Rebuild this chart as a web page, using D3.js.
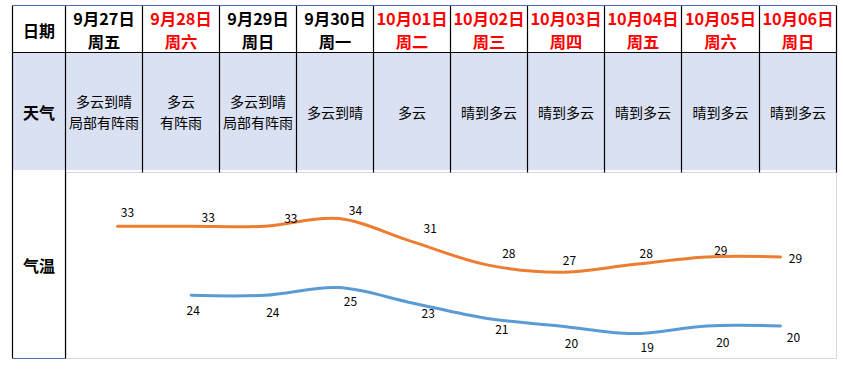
<!DOCTYPE html>
<html><head><meta charset="utf-8">
<script src="https://cdn.jsdelivr.net/npm/d3@7"></script>
<style>body{margin:0;background:#fff}svg{display:block}</style>
</head><body><svg id="c" width="843" height="376"></svg>
<script>
const dates = ["9月27日","9月28日","9月29日","9月30日","10月01日","10月02日","10月03日","10月04日","10月05日","10月06日"];
const weekdays = ["周五","周六","周日","周一","周二","周三","周四","周五","周六","周日"];
const holiday = [false,true,false,false,true,true,true,true,true,true];
const weather = [["多云到晴","局部有阵雨"],["多云","有阵雨"],["多云到晴","局部有阵雨"],["多云到晴"],["多云"],["晴到多云"],["晴到多云"],["晴到多云"],["晴到多云"],["晴到多云"]];
const high = [33,33,33,34,31,28,27,28,29,29];
const low = [null,24,24,25,23,21,20,19,20,20];
const rowLabels = ["日期","天气","气温"];

// layout-only label nudges (px)
const hiNudge = [[10,-14.6],[17,-9.6],[26,-8.6],[17,-9.6],[18,-14],[23,-12],[10,-12.6],[13,-12],[14,-7],[15,0.7]];
const loNudge = [[0,0],[2,14],[8,16.4],[12,12.4],[16,10],[16,10.7],[12,16.8],[14,13],[16,15.8],[13,10.8]];

const svg = d3.select("#c");
const FONT = "'Noto Sans CJK SC','Noto Sans',sans-serif";
const colEdges = [12.5,65.5,142.5,219.5,296.5,373.5,450.5,527.5,604.5,681.5,759.5,836.5];
const yTop = 5.5, yR1 = 52.5, yR2 = 172.5, yBot = 358.5, blueEnd = 170;

svg.append("rect").attr("x",colEdges[0]).attr("y",yR1).attr("width",colEdges[11]-colEdges[0]).attr("height",blueEnd-yR1).attr("fill","#D9E1F2");

svg.append("rect").attr("x",66).attr("y",yR2).attr("width",836.5-66).attr("height",yBot-yR2)
  .attr("fill","#fff").attr("stroke","#d9d9d9").attr("stroke-width",1);

const g = svg.append("g").attr("stroke","#000").attr("stroke-width",1.2);
colEdges.forEach((xx,i)=>{
  let y2 = (i===0||i===1) ? yBot : yR2;
  g.append("line").attr("x1",xx).attr("x2",xx).attr("y1",yTop).attr("y2",y2);
});
g.append("line").attr("x1",colEdges[0]).attr("x2",colEdges[11]).attr("y1",yR1).attr("y2",yR1);
svg.append("line").attr("x1",colEdges[0]).attr("x2",colEdges[11]).attr("y1",yTop).attr("y2",yTop).attr("stroke","#4a6fb0").attr("stroke-width",1.2);
svg.append("line").attr("x1",colEdges[0]).attr("x2",colEdges[1]).attr("y1",yBot).attr("y2",yBot).attr("stroke","#4a6fb0").attr("stroke-width",1.2);

const labY = [29.5,112,264.5];
rowLabels.forEach((t,i)=>{
  svg.append("text").attr("x",(colEdges[0]+colEdges[1])/2).attr("y",labY[i]).attr("text-anchor","middle")
    .attr("dominant-baseline","central").attr("font-family",FONT).attr("font-weight","bold").attr("font-size",16).text(t);
});

function multi(cx, ys, lines, attrs){
  lines.forEach((s,j)=>{
    const t = svg.append("text").attr("x",cx).attr("y",ys[j]).attr("text-anchor","middle").attr("dominant-baseline","central").attr("font-family",FONT);
    Object.entries(attrs).forEach(([k,v])=>t.attr(k,v));
    t.text(s);
  });
}

dates.forEach((d,i)=>{
  const cx = (colEdges[i+1]+colEdges[i+2])/2;
  const col = holiday[i] ? "#FF0000" : "#000";
  multi(cx,[17.6,41.2],[d,weekdays[i]],{"font-weight":"bold","font-size":16.3,"fill":col});
  const w = weather[i];
  const ys = w.length===2 ? [101,121.5] : [112.3];
  multi(cx,ys,w,{"font-size":14,"fill":"#000"});
});

const x = d3.scalePoint().domain(d3.range(dates.length)).range([117.5,780.5]);
const y = d3.scaleLinear().domain([19,34]).range([333.6,218.6]);
const line = d3.line().defined(d=>d.v!=null).x(d=>x(d.i)).y(d=>y(d.v)).curve(d3.curveCatmullRom.alpha(0.5));
const hiData = high.map((v,i)=>({i,v}));
const loData = low.map((v,i)=>({i,v}));
svg.append("path").datum(hiData).attr("d",line).attr("fill","none").attr("stroke","#ED7D31").attr("stroke-width",3).attr("stroke-linecap","round");
svg.append("path").datum(loData).attr("d",line).attr("fill","none").attr("stroke","#5B9BD5").attr("stroke-width",3).attr("stroke-linecap","round");

hiData.forEach((d,k)=>{
  svg.append("text").attr("x",x(d.i)+hiNudge[k][0]).attr("y",y(d.v)+hiNudge[k][1]).attr("text-anchor","middle")
    .attr("dominant-baseline","central").attr("font-family",FONT).attr("font-size",12).attr("fill","#000").text(d.v);
});
loData.filter(d=>d.v!=null).forEach(d=>{
  svg.append("text").attr("x",x(d.i)+loNudge[d.i][0]).attr("y",y(d.v)+loNudge[d.i][1]).attr("text-anchor","middle")
    .attr("dominant-baseline","central").attr("font-family",FONT).attr("font-size",12).attr("fill","#000").text(d.v);
});
</script></body></html>
